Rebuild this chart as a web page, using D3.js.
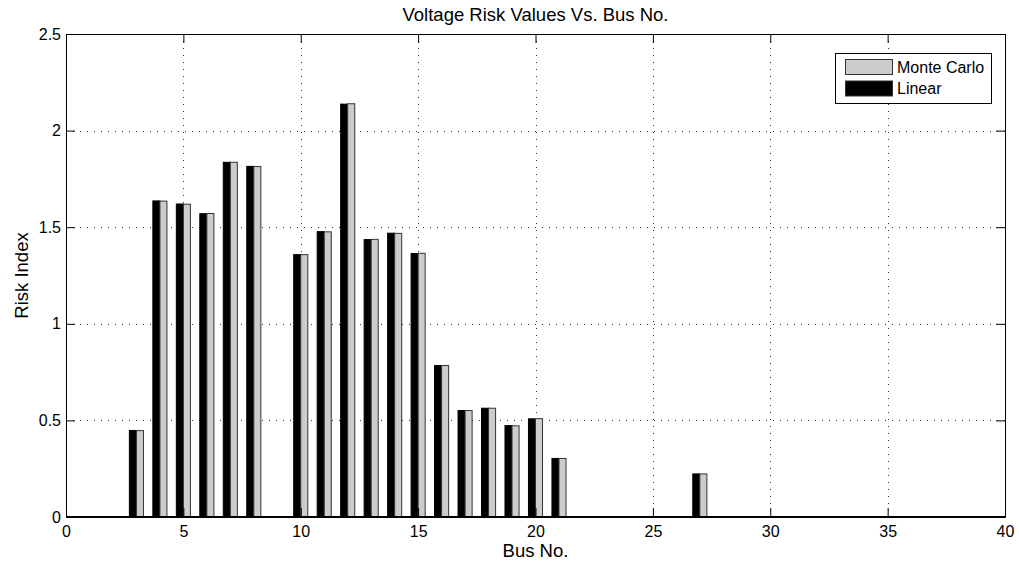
<!DOCTYPE html>
<html>
<head>
<meta charset="utf-8">
<script src="https://cdn.jsdelivr.net/npm/d3@7"></script>
<style>
  html, body { margin: 0; padding: 0; background: #fff; }
  svg { display: block; font-family: "Liberation Sans", Arial, Helvetica, sans-serif; }
</style>
</head>
<body>
<svg id="chart" width="1019" height="567"></svg>
<script>
// ---- data ----
const buses = d3.range(1, 40);
const linearValues = [0, 0, 0.448, 1.636, 1.620, 1.570, 1.836, 1.815, 0, 1.358,
  1.477, 2.137, 1.436, 1.469, 1.364, 0.784, 0.551, 0.563, 0.473, 0.508,
  0.303, 0, 0, 0, 0, 0, 0.223, 0, 0, 0,
  0, 0, 0, 0, 0, 0, 0, 0, 0];
const monteCarloValues = [0, 0, 0.447, 1.635, 1.619, 1.571, 1.836, 1.814, 0, 1.358,
  1.476, 2.139, 1.437, 1.468, 1.365, 0.784, 0.551, 0.563, 0.472, 0.509,
  0.303, 0, 0, 0, 0, 0, 0.223, 0, 0, 0,
  0, 0, 0, 0, 0, 0, 0, 0, 0];
const xTicks = [0, 5, 10, 15, 20, 25, 30, 35, 40];
const yTicks = [0, 0.5, 1, 1.5, 2, 2.5];
const seriesNames = ["Monte Carlo", "Linear"];
const titleText = "Voltage Risk Values Vs. Bus No.";
const xLabel = "Bus No.";
const yLabel = "Risk Index";

// ---- layout ----
const L = 66, R = 1005, T = 34, B = 517;
const svg = d3.select("#chart");
const x = d3.scaleLinear().domain([0, 40]).range([L, R]);
const y = d3.scaleLinear().domain([0, 2.5]).range([B, T]);
const barW = 0.3;

// grid
const grid = svg.append("g").attr("stroke", "#333").attr("stroke-width", 1)
  .attr("stroke-dasharray", "1,6").attr("fill", "none");
grid.selectAll("line.gx").data(xTicks.slice(1, -1)).join("line")
  .attr("x1", d => Math.round(x(d)) + 0.5).attr("x2", d => Math.round(x(d)) + 0.5)
  .attr("y1", T).attr("y2", B);
grid.selectAll("line.gy").data(yTicks.slice(1, -1)).join("line")
  .attr("y1", d => Math.round(y(d)) + 0.5).attr("y2", d => Math.round(y(d)) + 0.5)
  .attr("x1", L).attr("x2", R);

// bars
const rows = buses.map((b, i) => ({ bus: b, lin: linearValues[i], mc: monteCarloValues[i] }));
const bars = svg.append("g");
bars.selectAll("rect.lin").data(rows).join("rect")
  .attr("x", d => x(d.bus - barW)).attr("width", d => x(d.bus) - x(d.bus - barW))
  .attr("y", d => y(d.lin)).attr("height", d => y(0) - y(d.lin))
  .attr("fill", "#000").attr("stroke", "#000").attr("stroke-width", 1);
bars.selectAll("rect.mc").data(rows).join("rect")
  .attr("x", d => x(d.bus)).attr("width", d => x(d.bus + barW) - x(d.bus))
  .attr("y", d => y(d.mc)).attr("height", d => y(0) - y(d.mc))
  .attr("fill", "#cccccc").attr("stroke", "#333").attr("stroke-width", 1);

// axes
function styleAxis(g) {
  g.selectAll("path.domain").attr("stroke", "#000").attr("stroke-width", 1);
  g.selectAll(".tick line").attr("stroke", "#000").attr("stroke-width", 1);
  g.selectAll(".tick text").attr("fill", "#000").style("font-size", "16px")
    .style("font-family", '"Liberation Sans", Arial, sans-serif');
}
svg.append("g").attr("transform", `translate(0,${B})`)
  .call(d3.axisBottom(x).tickValues(xTicks).tickSizeInner(-9).tickSizeOuter(0).tickPadding(9).tickFormat(d3.format("d")))
  .call(styleAxis);
svg.append("g").attr("transform", `translate(0,${T})`)
  .call(d3.axisTop(x).tickValues(xTicks).tickSizeInner(-9).tickSizeOuter(0).tickFormat(""))
  .call(styleAxis);
svg.append("g").attr("transform", `translate(${L},0)`)
  .call(d3.axisLeft(y).tickValues(yTicks).tickSizeInner(-9).tickSizeOuter(0).tickPadding(5).tickFormat(d => String(d)))
  .call(styleAxis);
svg.append("g").attr("transform", `translate(${R},0)`)
  .call(d3.axisRight(y).tickValues(yTicks).tickSizeInner(-9).tickSizeOuter(0).tickFormat(""))
  .call(styleAxis);

// thick baseline (zero-height bars)
svg.append("line").attr("x1", L).attr("x2", R).attr("y1", B).attr("y2", B)
  .attr("stroke", "#000").attr("stroke-width", 2);

// title & labels
svg.append("text").attr("x", (L + R) / 2).attr("y", 21).attr("text-anchor", "middle")
  .style("font-size", "18.5px").text(titleText);
svg.append("text").attr("x", (L + R) / 2).attr("y", 557).attr("text-anchor", "middle")
  .style("font-size", "18.5px").text(xLabel);
svg.append("text").attr("transform", `translate(28,${(T + B) / 2}) rotate(-90)`)
  .attr("text-anchor", "middle").style("font-size", "18.5px").text(yLabel);

// legend
const lg = svg.append("g");
lg.append("rect").attr("x", 835.5).attr("y", 53.5).attr("width", 156).attr("height", 50)
  .attr("fill", "#fff").attr("stroke", "#000").attr("stroke-width", 1);
const legendColors = ["#cccccc", "#000"];
seriesNames.forEach((name, i) => {
  lg.append("rect").attr("x", 845.5).attr("y", 59.5 + i * 21.5).attr("width", 47).attr("height", 15)
    .attr("fill", legendColors[i]).attr("stroke", "#333").attr("stroke-width", 1);
  lg.append("text").attr("x", 897).attr("y", 72.5 + i * 21.5).style("font-size", "16px").text(name);
});
</script>
</body>
</html>
